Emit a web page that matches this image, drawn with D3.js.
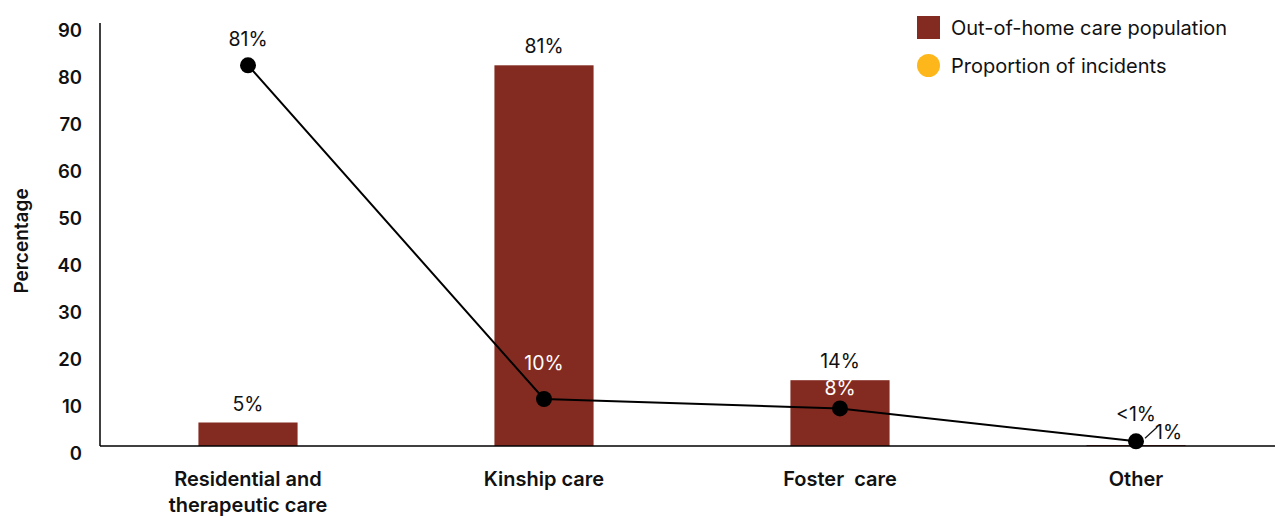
<!DOCTYPE html>
<html>
<head>
<meta charset="utf-8">
<script src="https://cdn.jsdelivr.net/npm/d3@7/dist/d3.min.js"></script>
<style>
  html, body { margin: 0; padding: 0; background: #fff; }
  svg { display: block; font-family: Inter, "Liberation Sans", Arial, sans-serif; }
</style>
</head>
<body>
<svg id="chart" width="1275" height="516"></svg>
<script>
// Care type categories (multi-line labels split on "|")
const categories = ["Residential and|therapeutic care", "Kinship care", "Foster  care", "Other"];
// Share of the out-of-home care population (%)
const populationValues = [5, 81, 14, 0.2];
const populationLabels = ["5%", "81%", "14%", "<1%"];
// Share of incidents (%)
const incidentValues = [81, 10, 8, 1];
const incidentLabels = ["81%", "10%", "8%", "1%"];
// Y axis ticks
const yTicks = [0, 10, 20, 30, 40, 50, 60, 70, 80, 90];
const legendItems = ["Out-of-home care population", "Proportion of incidents"];

const barColor = "#842B21";
const dotColor = "#FDB71A";

const svg = d3.select("#chart");
const margin = { left: 100, top: 23, bottom: 446 };

const x = d3.scaleBand()
  .domain(categories)
  .range([margin.left, 1284])
  .paddingInner(0.665)
  .paddingOuter(0.3325);

const y = d3.scaleLinear().domain([0, 90]).range([margin.bottom, margin.top]);

// Y axis line
svg.append("line")
  .attr("x1", margin.left).attr("x2", margin.left)
  .attr("y1", y(90)).attr("y2", y(0))
  .attr("stroke", "#000").attr("stroke-width", 1.5);

// Y tick labels
svg.append("g").selectAll("text").data(yTicks).join("text")
  .attr("x", 82).attr("y", d => y(d) + 8)
  .attr("dy", "0.35em")
  .attr("text-anchor", "end")
  .attr("font-size", 18.5).attr("font-weight", 600)
  .attr("fill", "#111")
  .text(d => d);

// Y axis title
svg.append("text")
  .attr("transform", `translate(28,${241}) rotate(-90)`)
  .attr("text-anchor", "middle")
  .attr("font-size", 19).attr("font-weight", 600)
  .attr("fill", "#111")
  .text("Percentage");

// Bars
svg.append("g").selectAll("rect").data(categories).join("rect")
  .attr("x", d => x(d))
  .attr("width", x.bandwidth())
  .attr("y", (d, i) => y(populationValues[i]))
  .attr("height", (d, i) => y(0) - y(populationValues[i]))
  .attr("fill", barColor);

// X baseline drawn over bar bottoms
svg.append("line")
  .attr("x1", margin.left).attr("x2", 1275)
  .attr("y1", y(0)).attr("y2", y(0))
  .attr("stroke", "#000").attr("stroke-width", 1.5);

const cx = d => x(d) + x.bandwidth() / 2;

// Bar value labels
svg.append("g").selectAll("text").data(categories).join("text")
  .attr("x", (d, i) => cx(d))
  .attr("y", (d, i) => i === 3 ? y(populationValues[i]) - 24 : y(populationValues[i]) - 12)
  .attr("text-anchor", "middle")
  .attr("font-size", 19.5)
  .attr("fill", "#111")
  .text((d, i) => populationLabels[i]);

// Incident line
const line = d3.line().x(d => cx(d)).y((d, i) => y(incidentValues[i]));
svg.append("path")
  .datum(categories)
  .attr("d", line)
  .attr("fill", "none")
  .attr("stroke", "#000")
  .attr("stroke-width", 2);

svg.append("g").selectAll("circle").data(categories).join("circle")
  .attr("cx", d => cx(d))
  .attr("cy", (d, i) => y(incidentValues[i]))
  .attr("r", 8)
  .attr("fill", "#000");

// Incident value labels: offsets above the point, white when sitting on a bar
const lineLabelDy = [-19, -29, -13, 0];
svg.append("g").selectAll("text").data(categories.slice(0, 3)).join("text")
  .attr("x", d => cx(d))
  .attr("y", (d, i) => y(incidentValues[i]) + lineLabelDy[i])
  .attr("text-anchor", "middle")
  .attr("font-size", 19.5)
  .attr("fill", (d, i) => incidentValues[i] < populationValues[i] ? "#fff" : "#111")
  .text((d, i) => incidentLabels[i]);

// Leader-line label for the last point
{
  const d = categories[3];
  const px = cx(d), py = y(incidentValues[3]);
  svg.append("line")
    .attr("x1", px + 9).attr("y1", py - 3)
    .attr("x2", px + 21).attr("y2", py - 14)
    .attr("stroke", "#111").attr("stroke-width", 1.2);
  svg.append("text")
    .attr("x", px + 19).attr("y", py - 2)
    .attr("font-size", 19.5)
    .attr("fill", "#111")
    .text(incidentLabels[3]);
}

// Category labels
const catG = svg.append("g").selectAll("text").data(categories).join("text")
  .attr("x", d => cx(d))
  .attr("y", 486)
  .attr("text-anchor", "middle")
  .attr("font-size", 20).attr("font-weight", 600)
  .attr("fill", "#111");
catG.each(function(d) {
  const parts = d.split("|");
  d3.select(this).selectAll("tspan").data(parts).join("tspan")
    .attr("x", cx(d))
    .attr("dy", (p, j) => j === 0 ? 0 : 26)
    .style("white-space", "pre")
    .text(p => p);
});

// Legend
const lg = svg.append("g");
lg.append("rect").attr("x", 917).attr("y", 16).attr("width", 23).attr("height", 23).attr("fill", barColor);
lg.append("circle").attr("cx", 928.5).attr("cy", 65.5).attr("r", 11.5).attr("fill", dotColor);
lg.selectAll("text").data(legendItems).join("text")
  .attr("x", 951)
  .attr("y", (d, i) => 28 + i * 38)
  .attr("dy", "0.35em")
  .attr("font-size", 20)
  .attr("fill", "#111")
  .text(d => d);
</script>
</body>
</html>
